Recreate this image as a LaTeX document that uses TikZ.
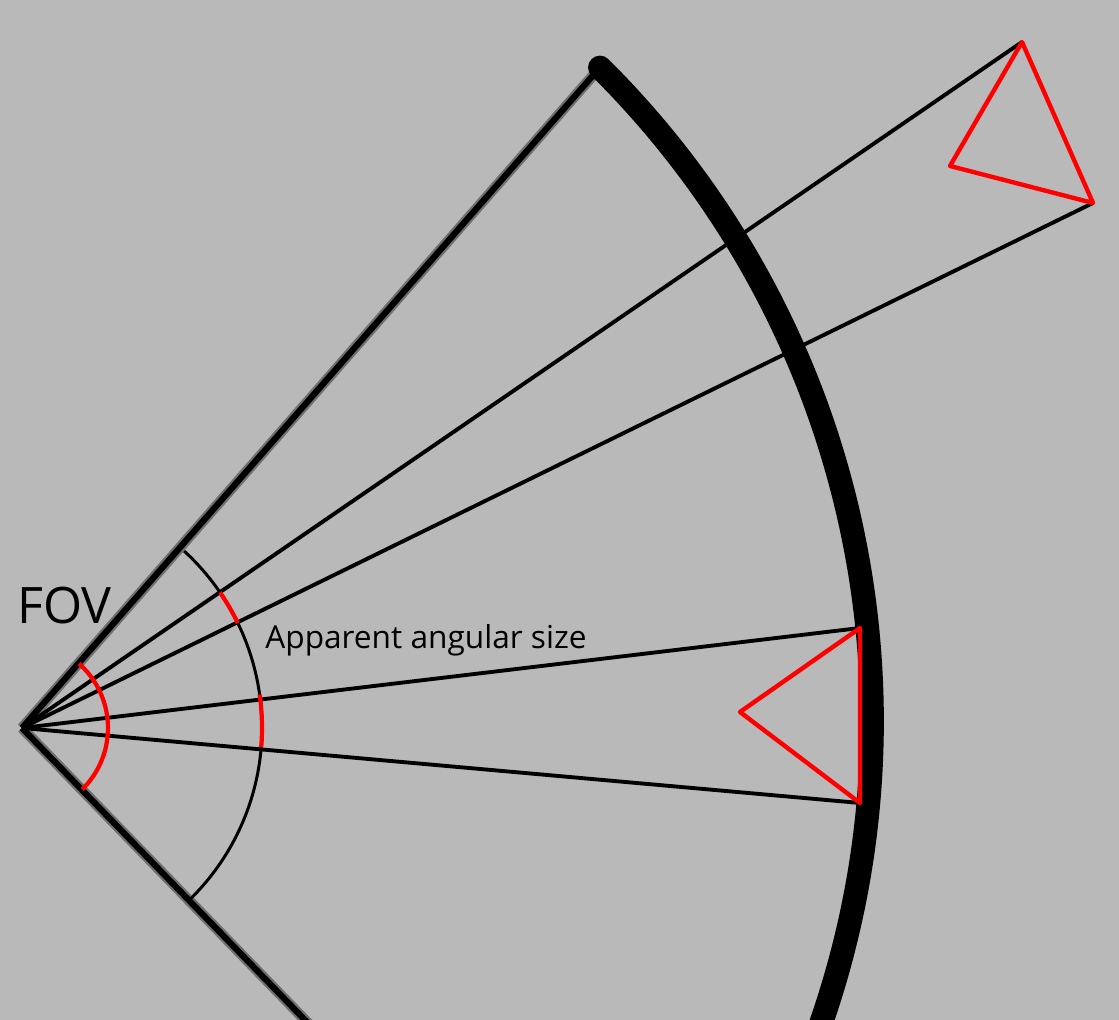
\documentclass[tikz,border=0pt]{standalone}
\usepackage{fontspec}
\setmainfont{Open Sans}
\usetikzlibrary{calc}
\definecolor{bg}{RGB}{185,185,185}
\definecolor{redline}{RGB}{255,0,0}
\begin{document}
\begin{tikzpicture}[x=0.02cm,y=0.02cm,
  ray/.style={line width=2.2pt, black},
  fovedge/.style={line width=3.5pt, black},
  halo/.style={line width=6pt, black, opacity=0.4},
  screen/.style={line width=13.5pt, black, line cap=round},
  redtri/.style={line width=2.5pt, redline, line join=round},
  redarc/.style={line width=2.4pt, redline},
  measarc/.style={line width=1.7pt, black},
  lbl/.style={anchor=base west, inner sep=0pt}]
\fill[bg] (0,0) rectangle (1119,1020);
\useasboundingbox (0,0) rectangle (1119,1020);
\clip (0,0) rectangle (1119,1020);
% key points
\coordinate (O) at (22,292);
\coordinate (C) at (-49,299);
\coordinate (S) at ($(C)+(45.2:921)$);
\coordinate (E) at ($(O)+(-45.9:440)$);
\coordinate (T1) at (1022,978);
\coordinate (T2) at (1093,817);
\coordinate (T3) at (950,854);
\coordinate (L1) at (860,392);
\coordinate (L2) at (860,217);
\coordinate (L3) at (740,308);
% FOV edges (soft)
\draw[halo] (O) -- (S);
\draw[halo] (O) -- (E);
\draw[fovedge] (O) -- (S);
\draw[fovedge] (O) -- (E);
% rays
\draw[ray] (O) -- (T1);
\draw[ray] (O) -- (T2);
\draw[ray] (O) -- (L1);
\draw[ray] (O) -- (L2);
% screen arc
\draw[screen] (S) arc[start angle=45.2, end angle=-25, radius=921];
% measuring arc
\draw[measarc] ($(O)+(47.5:240)$) arc[start angle=47.5, end angle=-45.3, radius=240];
\draw[redarc] ($(O)+(34.4:240)$) arc[start angle=34.4, end angle=25.9, radius=240];
\draw[redarc] ($(O)+(8:240)$) arc[start angle=8, end angle=-4.6, radius=240];
% FOV arc
\draw[redarc] ($(O)+(48.5:86)$) arc[start angle=48.5, end angle=-45.5, radius=86];
% triangles
\draw[redtri] (T1) -- (T2) -- (T3) -- cycle;
\draw[redtri] (L1) -- (L2) -- (L3) -- cycle;
% labels
\node[lbl, font=\fontsize{28.6}{30}\selectfont] (fov) at (17,396) {FOV};
\node[lbl, font=\fontsize{18}{20}\selectfont] (aas) at (265,371) {Apparent angular size};
\end{tikzpicture}
\end{document}
